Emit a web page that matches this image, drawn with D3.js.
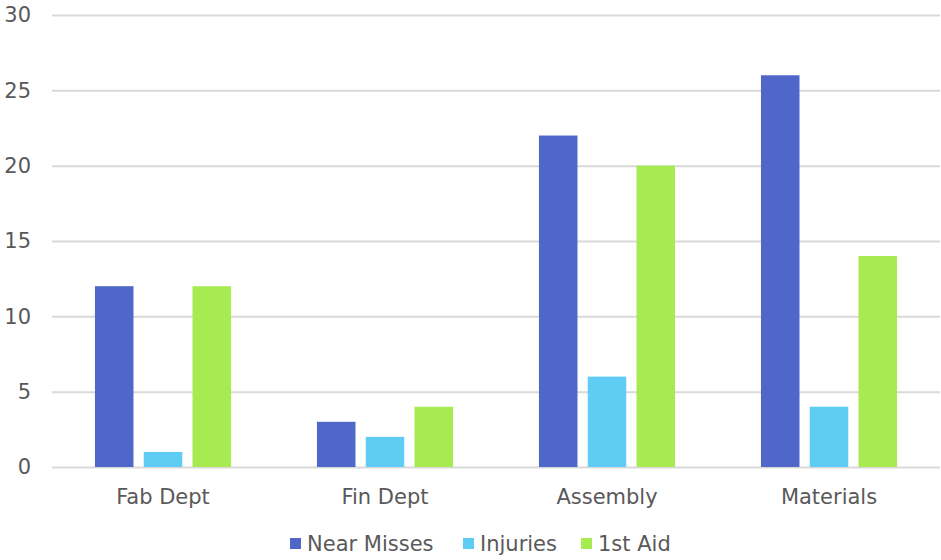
<!DOCTYPE html>
<html>
<head>
<meta charset="utf-8">
<script src="https://cdn.jsdelivr.net/npm/d3@7"></script>
<style>
  body { margin: 0; background: #fff; }
  svg text { font-family: "DejaVu Sans", sans-serif; fill: #595959; }
</style>
</head>
<body>
<svg></svg>
<script>
let categories = ['Fab Dept', 'Fin Dept', 'Assembly', 'Materials']
let seriesNames = ['Near Misses', 'Injuries', '1st Aid']
let nearMisses = [12, 3, 22, 26]
let injuries = [1, 2, 6, 4]
let firstAid = [12, 4, 20, 14]
let yTicks = [0, 5, 10, 15, 20, 25, 30]
let colors = ['#4e67c8', '#5eccf3', '#a7ea52']

let w = 941
let h = 560
let padLeft = 52
let padRight = 940
let padTop = 15
let padBottom = 467

let svg = d3.select('svg').attr('width', w).attr('height', h)

let values = [nearMisses, injuries, firstAid]
let rows = categories.map((c, i) => ({
    cat: c,
    vals: seriesNames.map((s, j) => ({ name: s, v: values[j][i], j: j }))
}))

let x = d3.scaleBand()
          .domain(categories)
          .range([padLeft, padRight])
          .paddingInner(0.387)
          .paddingOuter(0.1935)
let xs = d3.scaleBand()
           .domain(seriesNames)
           .range([0, x.bandwidth()])
           .paddingInner(0.21)
let y = d3.scaleLinear()
          .domain([0, 30])
          .range([padBottom, padTop])

// gridlines
let yAxis = d3.axisLeft(y)
              .tickValues(yTicks)
              .tickSize(-(padRight - padLeft))
              .tickPadding(21)
let gy = svg.append('g')
            .attr('transform', 'translate(' + padLeft + ',0)')
            .call(yAxis)
gy.select('.domain').remove()
gy.selectAll('line').attr('stroke', '#d9d9d9').attr('stroke-width', 2)
gy.selectAll('text').attr('font-size', '21px').attr('fill', '#595959')

// bars
svg.append('g').selectAll('g')
   .data(rows)
   .enter()
   .append('g')
   .attr('transform', (d) => 'translate(' + x(d.cat) + ',0)')
   .selectAll('rect')
   .data((d) => d.vals)
   .enter()
   .append('rect')
   .attr('x', (d) => xs(d.name))
   .attr('y', (d) => y(d.v))
   .attr('width', xs.bandwidth())
   .attr('height', (d) => y(0) - y(d.v))
   .attr('fill', (d) => colors[d.j])

// x axis labels
let xAxis = d3.axisBottom(x).tickSize(0).tickPadding(22)
let gx = svg.append('g')
            .attr('transform', 'translate(0,' + padBottom + ')')
            .call(xAxis)
gx.select('.domain').remove()
gx.selectAll('text').attr('font-size', '21px').attr('fill', '#595959')

// legend
let legendX = [290, 463, 581]
let lg = svg.append('g').selectAll('g')
            .data(seriesNames)
            .enter()
            .append('g')
            .attr('transform', (d, i) => 'translate(' + legendX[i] + ',544)')
lg.append('rect')
  .attr('x', 0).attr('y', -6)
  .attr('width', 11).attr('height', 11)
  .attr('fill', (d, i) => colors[i])
lg.append('text')
  .attr('x', 17)
  .attr('y', 0)
  .attr('dy', '0.35em')
  .attr('font-size', '21px')
  .text((d) => d)
</script>
</body>
</html>
